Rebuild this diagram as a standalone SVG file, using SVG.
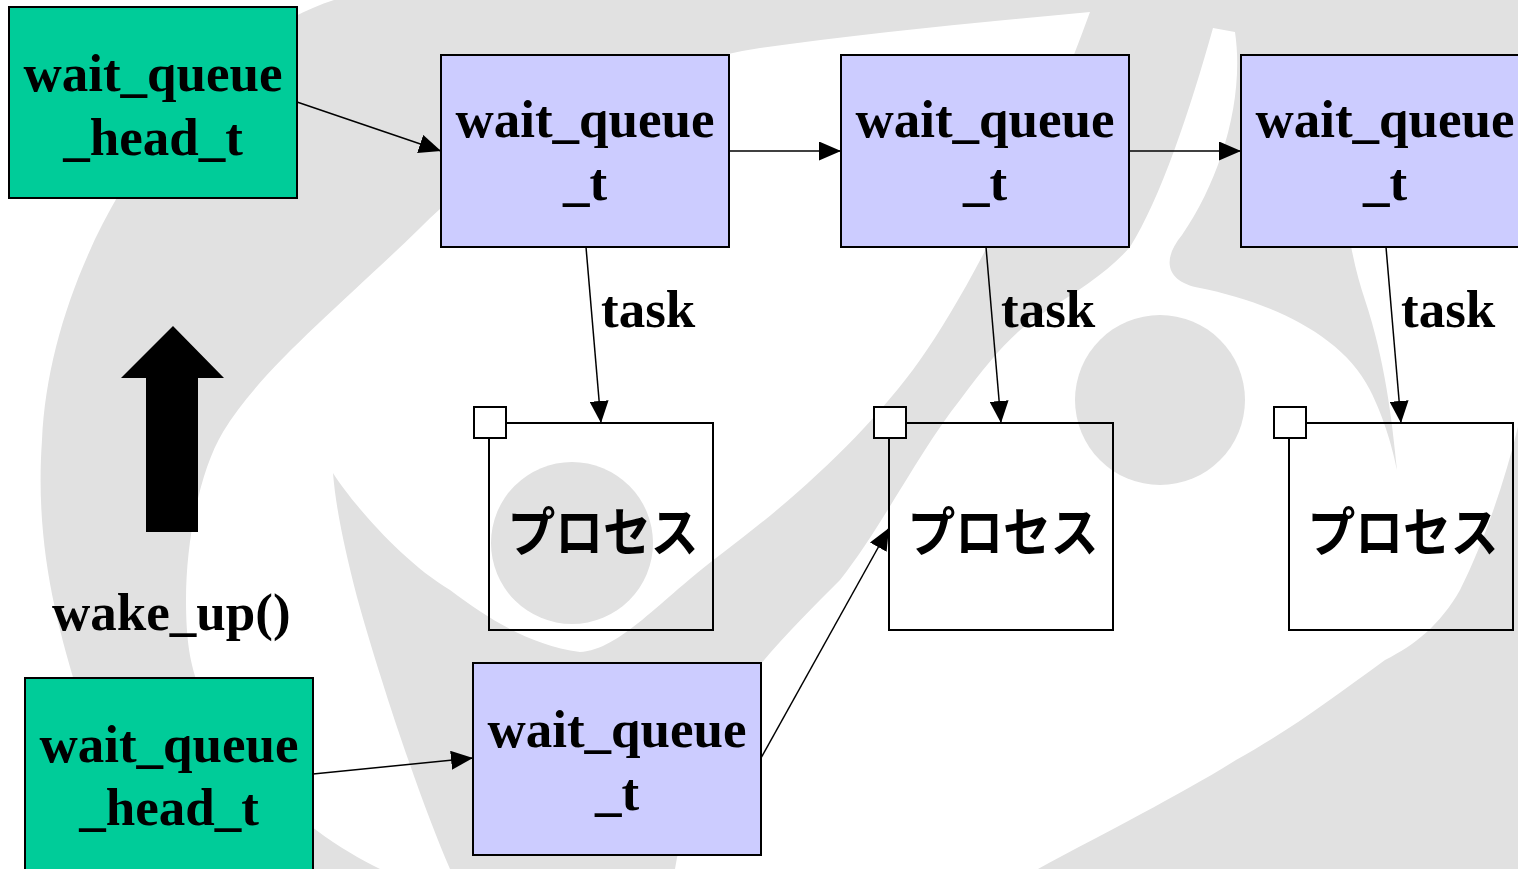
<svg xmlns="http://www.w3.org/2000/svg" width="1518" height="869" viewBox="0 0 1518 869">
  <defs>
    <style>
      .bg { fill: #e1e1e1; }
      .hole { fill: #ffffff; }
      .head { fill: #00cc99; stroke: #000; stroke-width: 2; }
      .entry { fill: #ccccff; stroke: #000; stroke-width: 2; }
      .proc { fill: none; stroke: #000; stroke-width: 2; }
      .tab { fill: #ffffff; stroke: #000; stroke-width: 2; }
      .lbl { font-family: "Liberation Serif", "Times New Roman", serif; font-weight: bold; font-size: 53px; text-anchor: middle; fill: #000; }
      .edge-lbl { font-family: "Liberation Serif", "Times New Roman", serif; font-weight: bold; font-size: 53px; fill: #000; }
      .jp { font-family: "Noto Sans CJK JP", "Noto Sans CJK SC", sans-serif; font-weight: bold; font-size: 54px; text-anchor: middle; fill: #000; }
      .link { fill: none; stroke: #000; stroke-width: 1.5; marker-end: url(#arrow); }
    </style>
    <marker id="arrow" viewBox="0 0 22 19" refX="22" refY="9.5" markerWidth="22" markerHeight="19" orient="auto" markerUnits="userSpaceOnUse">
      <path d="M0,0 L22,9.5 L0,19 Z" fill="#000"/>
    </marker>
  </defs>

  <!-- background emblem -->
  <g id="emblem">
    <rect x="0" y="0" width="1518" height="869" fill="#ffffff"/>
    <path class="bg" d="M334 0 L1518 0 L1518 869 L125 869 L80 700 C55 620 35 540 42 440 C50 260 180 50 334 0 Z"/>
    <!-- inner crescent with the swoosh tongue -->
    <path class="hole" d="M1090 12 C980 22 860 34 760 48 C620 70 500 150 420 228 C340 306 260 370 223 432 C200 470 186 540 186 600 C186 640 190 665 200 690 C240 780 320 840 380 869 L450 869 C420 800 380 680 357 597 C345 550 336 510 333 473 C350 500 400 560 450 590 C490 620 530 645 580 652 C620 650 660 600 720 555 C800 495 870 430 920 360 C970 290 1040 150 1090 12 Z"/>
    <!-- eye white: narrow channel down to the pupil, wrapped round the horn -->
    <path class="hole" d="M1213 28 L1235 32 C1245 100 1220 180 1182 235 C1160 262 1168 282 1200 288 C1260 300 1340 330 1370 390 C1385 420 1393 450 1397 470 C1392 420 1385 360 1365 300 C1345 240 1330 150 1380 90 C1420 60 1470 60 1518 62 L1518 427 C1505 480 1485 540 1460 590 C1440 625 1415 645 1385 660 C1330 700 1290 730 1236 760 C1180 795 1110 830 1038 869 L675 869 C680 840 690 800 700 760 C720 700 790 630 840 580 C880 530 920 450 960 400 C990 360 1010 335 1040 315 C1080 290 1110 270 1130 247 C1160 200 1190 110 1213 28 Z"/>
    <circle class="bg" cx="572" cy="543" r="81"/>
    <circle class="bg" cx="1160" cy="400" r="85"/>
  </g>

  <!-- wake_up() indicator -->
  <g id="wakeup">
    <path d="M173 326 L224 378 L198 378 L198 532 L146 532 L146 378 L121 378 Z" fill="#000"/>
    <text class="edge-lbl" x="52" y="630">wake_up()</text>
  </g>

  <!-- connectors -->
  <g id="connectors">
    <line class="link" x1="297" y1="102" x2="441" y2="151"/>
    <line class="link" x1="729" y1="151" x2="841" y2="151"/>
    <line class="link" x1="1129" y1="151" x2="1241" y2="151"/>
    <line class="link" x1="586" y1="247" x2="601" y2="423"/>
    <line class="link" x1="986" y1="247" x2="1001" y2="423"/>
    <line class="link" x1="1386" y1="247" x2="1401" y2="423"/>
    <line class="link" x1="313" y1="774" x2="473" y2="758"/>
    <line class="link" x1="761" y1="758" x2="889" y2="528"/>
    <text class="edge-lbl" x="601" y="327">task</text>
    <text class="edge-lbl" x="1001" y="327">task</text>
    <text class="edge-lbl" x="1401" y="327">task</text>
  </g>

  <!-- queue heads -->
  <g id="head-top">
    <rect class="head" x="9" y="7" width="288" height="191"/>
    <text class="lbl" x="153" y="91">wait_queue</text>
    <text class="lbl" x="153" y="155">_head_t</text>
  </g>
  <g id="head-bottom">
    <rect class="head" x="25" y="678" width="288" height="200"/>
    <text class="lbl" x="169" y="762">wait_queue</text>
    <text class="lbl" x="169" y="825">_head_t</text>
  </g>

  <!-- queue entries -->
  <g id="entry-1">
    <rect class="entry" x="441" y="55" width="288" height="192"/>
    <text class="lbl" x="585" y="137">wait_queue</text>
    <text class="lbl" x="585" y="200">_t</text>
  </g>
  <g id="entry-2">
    <rect class="entry" x="841" y="55" width="288" height="192"/>
    <text class="lbl" x="985" y="137">wait_queue</text>
    <text class="lbl" x="985" y="200">_t</text>
  </g>
  <g id="entry-3">
    <rect class="entry" x="1241" y="55" width="288" height="192"/>
    <text class="lbl" x="1385" y="137">wait_queue</text>
    <text class="lbl" x="1385" y="200">_t</text>
  </g>
  <g id="entry-4">
    <rect class="entry" x="473" y="663" width="288" height="192"/>
    <text class="lbl" x="617" y="747">wait_queue</text>
    <text class="lbl" x="617" y="810">_t</text>
  </g>

  <!-- processes -->
  <g id="proc-1">
    <rect class="proc" x="489" y="423" width="224" height="207"/>
    <rect class="tab" x="474" y="407" width="32" height="31"/>
    <text class="jp" transform="translate(603 552) scale(0.885 1)">プロセス</text>
  </g>
  <g id="proc-2">
    <rect class="proc" x="889" y="423" width="224" height="207"/>
    <rect class="tab" x="874" y="407" width="32" height="31"/>
    <text class="jp" transform="translate(1003 552) scale(0.885 1)">プロセス</text>
  </g>
  <g id="proc-3">
    <rect class="proc" x="1289" y="423" width="224" height="207"/>
    <rect class="tab" x="1274" y="407" width="32" height="31"/>
    <text class="jp" transform="translate(1403 552) scale(0.885 1)">プロセス</text>
  </g>
</svg>
